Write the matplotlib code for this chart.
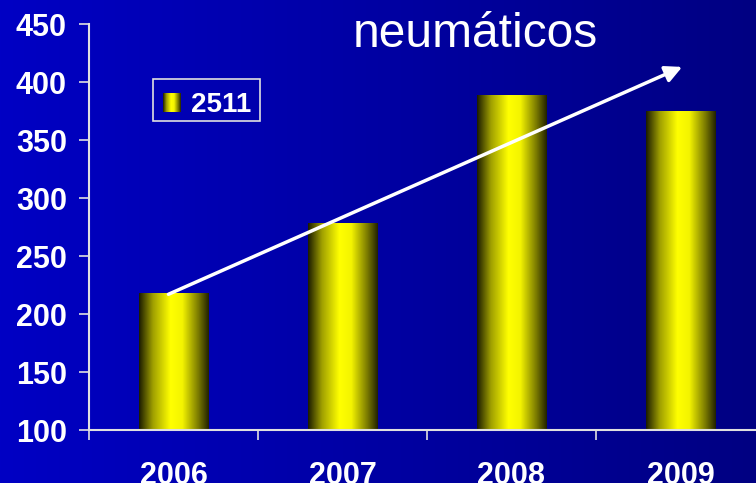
import numpy as np
import matplotlib
matplotlib.use("Agg")
import matplotlib.pyplot as plt
from matplotlib.colors import LinearSegmentedColormap
from matplotlib.patches import Rectangle

YEARS = ["2006", "2007", "2008", "2009"]
VALUES = [218, 278, 388, 375]
SERIES = "2511"
TITLE = "neumáticos"
ARROW_FROM = (-0.03, 217)
ARROW_TO = (3.01, 413)

W, H = 756, 483
plt.rcParams['font.family'] = ['Liberation Sans', 'DejaVu Sans']

bar_cmap = LinearSegmentedColormap.from_list(
    'cyl', [(0.0, '#1c1c00'), (0.2, '#a0a000'), (0.45, '#ffff00'),
            (0.62, '#f4f400'), (0.85, '#7a7a00'), (1.0, '#222200')])
bg_cmap = LinearSegmentedColormap.from_list('bg', ['#0000c4', '#000082'])

fig = plt.figure(figsize=(W / 100, H / 100), dpi=100)

# background gradient
bg = fig.add_axes([0, 0, 1, 1], zorder=0)
bg.imshow(np.linspace(0, 1, 256)[None, :], cmap=bg_cmap, aspect='auto',
          extent=[0, 1, 0, 1])
bg.axis('off')

ax = fig.add_axes([89 / W, 1 - 430 / H, (W - 89) / W, 406 / H], zorder=1)
ax.patch.set_alpha(0)
xmax = -0.5 + (W - 89) / 169

grad = np.linspace(0, 1, 256)[None, :]
bw = 0.41
for i, v in enumerate(VALUES):
    ax.imshow(grad, cmap=bar_cmap, aspect='auto',
              extent=[i - bw / 2, i + bw / 2, 100, v], zorder=2)
ax.set_xlim(-0.5, xmax)
ax.set_ylim(100, 450)

ax.annotate('', xy=ARROW_TO, xytext=ARROW_FROM,
            arrowprops=dict(arrowstyle='-|>,head_length=1.0,head_width=0.5',
                            color='white', lw=2.5, shrinkA=0, shrinkB=0),
            zorder=4)

for s in ['top', 'right']:
    ax.spines[s].set_visible(False)
for s in ['left', 'bottom']:
    ax.spines[s].set_color('#e0e0e0')
    ax.spines[s].set_linewidth(1.5)
ax.spines['bottom'].set_zorder(5)

ax.set_yticks(np.arange(100, 451, 50))
ax.tick_params(axis='y', colors='#e0e0e0', length=7, width=1.2, pad=9,
               labelsize=22, labelcolor='white')
for t in ax.get_yticklabels():
    t.set_fontweight('bold')

ax.set_xticks(range(len(YEARS)))
ax.set_xticklabels(YEARS, fontsize=22, fontweight='bold', color='white')
ax.tick_params(axis='x', which='major', length=0, pad=22)
ax.set_xticks([-0.5, 0.5, 1.5, 2.5], minor=True)
ax.tick_params(axis='x', which='minor', length=7, width=1.2, colors='#e0e0e0')

fig.text(475 / W, 1 - 47 / H, TITLE, color='white', fontsize=34.5,
         ha='center', va='baseline')

# legend box
fig.patches.append(Rectangle((153 / W, 1 - 121 / H), 107 / W, 42 / H,
                             transform=fig.transFigure, fill=False,
                             edgecolor='#e0e0e0', lw=1.2, zorder=3))
lg = fig.add_axes([163 / W, 1 - 112 / H, 18 / W, 19 / H], zorder=3)
lg.imshow(grad, cmap=bar_cmap, aspect='auto')
lg.axis('off')
fig.text(191 / W, 1 - 112 / H, SERIES, color='white', fontsize=20,
         fontweight='bold', ha='left', va='baseline')

fig.savefig('out.png', dpi=100)
